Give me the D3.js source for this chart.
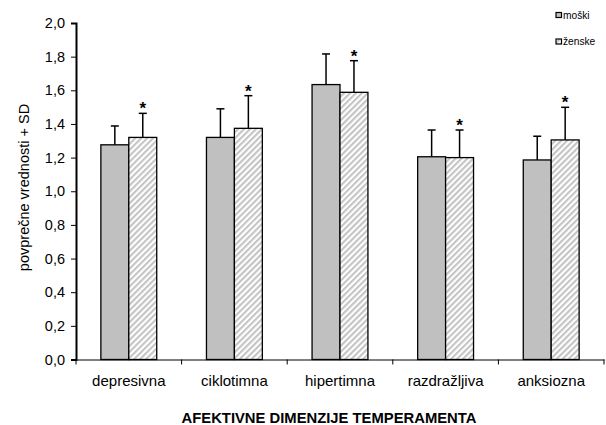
<!DOCTYPE html>
<html>
<head>
<meta charset="utf-8">
<script src="https://cdn.jsdelivr.net/npm/d3@7"></script>
<style>
  body { margin: 0; background: #fff; }
  svg text { font-family: "Liberation Sans", Arial, sans-serif; fill: #000; }
</style>
</head>
<body>
<svg id="chart" width="606" height="425"></svg>
<script>
// Temperament dimensions and mean scores (+ SD) by gender
const categories = ["depresivna", "ciklotimna", "hipertimna", "razdražljiva", "anksiozna"];
const seriesNames = ["moški", "ženske"];
const maleMeans = [1.276, 1.32, 1.634, 1.205, 1.186];
const femaleMeans = [1.32, 1.374, 1.588, 1.20, 1.305];
const maleSD = [0.112, 0.17, 0.182, 0.159, 0.141];
const femaleSD = [0.143, 0.194, 0.188, 0.164, 0.194];
const significant = [true, true, true, true, true];
const yTicks = [0, 0.2, 0.4, 0.6, 0.8, 1.0, 1.2, 1.4, 1.6, 1.8, 2.0];

const svg = d3.select("#chart");
const plotLeft = 76, plotRight = 604, plotTop = 23, plotBottom = 359.5;

const defs = svg.append("defs");
const pat = defs.append("pattern")
  .attr("id", "hatch")
  .attr("patternUnits", "userSpaceOnUse")
  .attr("width", 4.2).attr("height", 4.2)
  .attr("patternTransform", "rotate(45)");
pat.append("rect").attr("width", 4.2).attr("height", 4.2).attr("fill", "#fff");
pat.append("rect").attr("x", 0).attr("width", 2.1).attr("height", 4.2).attr("fill", "#c4c4c4");

const x = d3.scaleBand().domain(categories).range([plotLeft, plotRight]).paddingInner(0).paddingOuter(0);
const inner = d3.scaleBand().domain(seriesNames).range([0, x.bandwidth()]).paddingInner(0).paddingOuter(0.89);
const y = d3.scaleLinear().domain([0, 2]).range([plotBottom, plotTop]);

// y axis
const yAxis = d3.axisLeft(y).tickValues(yTicks).tickSize(5).tickPadding(6)
  .tickFormat(d => d3.format(".1f")(d).replace(".", ","));
const gy = svg.append("g").attr("transform", `translate(${plotLeft},0)`).call(yAxis);
gy.select(".domain").attr("stroke", "#000").attr("stroke-width", 2);
gy.selectAll(".tick line").attr("stroke", "#000").attr("stroke-width", 1);
gy.selectAll("text").style("font-size", "14.5px").attr("fill", "#000");

// y axis title
svg.append("text")
  .attr("transform", `translate(29,187.5) rotate(-90)`)
  .attr("text-anchor", "middle")
  .style("font-size", "14.5px")
  .text("povprečne vrednosti + SD");

// bars
const data = categories.map((c, i) => ({
  cat: c,
  vals: [
    { s: seriesNames[0], v: maleMeans[i], sd: maleSD[i] },
    { s: seriesNames[1], v: femaleMeans[i], sd: femaleSD[i] }
  ],
  sig: significant[i]
}));

const groups = svg.selectAll("g.cat").data(data).enter().append("g")
  .attr("class", "cat")
  .attr("transform", d => `translate(${x(d.cat)},0)`);

// error bars (drawn first so bars sit on top of the stem)
groups.each(function(d) {
  const g = d3.select(this);
  d.vals.forEach(b => {
    const cx = inner(b.s) + inner.bandwidth() / 2;
    g.append("line").attr("x1", cx).attr("x2", cx)
      .attr("y1", y(b.v)).attr("y2", y(b.v + b.sd))
      .attr("stroke", "#000").attr("stroke-width", 1.5);
    g.append("line").attr("x1", cx - 4).attr("x2", cx + 4)
      .attr("y1", y(b.v + b.sd)).attr("y2", y(b.v + b.sd))
      .attr("stroke", "#000").attr("stroke-width", 1.5);
  });
  if (d.sig) {
    const b = d.vals[1];
    const cx = inner(b.s) + inner.bandwidth() / 2;
    g.append("text").attr("x", cx).attr("y", y(b.v + b.sd) + 1)
      .attr("text-anchor", "middle")
      .style("font-size", "17px").style("font-weight", "bold")
      .text("*");
  }
});

groups.selectAll("rect").data(d => d.vals).enter().append("rect")
  .attr("x", b => inner(b.s))
  .attr("y", b => y(b.v))
  .attr("width", inner.bandwidth())
  .attr("height", b => y(0) - y(b.v))
  .attr("fill", b => b.s === seriesNames[0] ? "#c0c0c0" : "url(#hatch)")
  .attr("stroke", "#000")
  .attr("stroke-width", 1.3);

// x axis
const xAxis = d3.axisBottom(x).tickSize(0).tickPadding(16);
const gx = svg.append("g").attr("transform", `translate(0,${plotBottom})`).call(xAxis);
gx.select(".domain").attr("stroke", "#000").attr("stroke-width", 1.2);
gx.selectAll("text").style("font-size", "15px").attr("fill", "#000");
// boundary ticks between categories
const bounds = categories.map(c => x(c)).concat([plotRight]);
gx.selectAll("line.bound").data(bounds).enter().append("line")
  .attr("class", "bound")
  .attr("x1", d => d).attr("x2", d => d)
  .attr("y1", 0).attr("y2", 5)
  .attr("stroke", "#000").attr("stroke-width", 1);

// x axis title
svg.append("text")
  .attr("x", 329).attr("y", 423)
  .attr("text-anchor", "middle")
  .style("font-size", "14.8px").style("font-weight", "bold")
  .text("AFEKTIVNE DIMENZIJE TEMPERAMENTA");

// legend
const legend = svg.append("g").attr("transform", "translate(556,0)");
seriesNames.forEach((s, i) => {
  const ly = 12.5 + i * 26.5;
  legend.append("rect").attr("x", 0).attr("y", ly).attr("width", 5.5).attr("height", 5)
    .attr("fill", i === 0 ? "#c0c0c0" : "url(#hatch)")
    .attr("stroke", "#000").attr("stroke-width", 1.2);
  legend.append("text").attr("x", 7).attr("y", ly + 6)
    .style("font-size", "10.2px")
    .text(s);
});
</script>
</body>
</html>
